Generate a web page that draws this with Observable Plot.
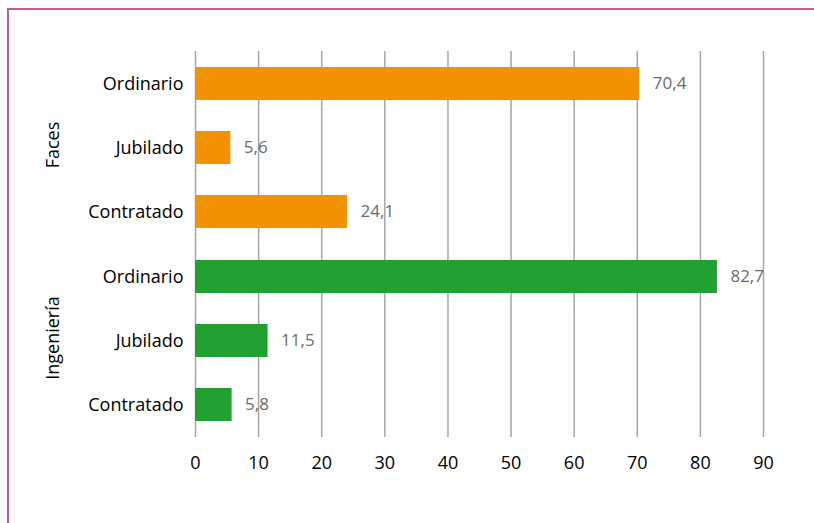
<!DOCTYPE html>
<html>
<head>
<meta charset="utf-8">
<script src="https://cdn.jsdelivr.net/npm/d3@7"></script>
<script src="https://cdn.jsdelivr.net/npm/@observablehq/plot@0.6"></script>
<style>
  html, body { margin: 0; padding: 0; background: #fff; }
  #wrap { position: relative; width: 814px; height: 523px; overflow: hidden; }
  #frame { position: absolute; left: 7px; top: 8px; right: -10px; bottom: -10px;
           border-top: 2px solid #c2589b; border-left: 2px solid #c2589b; pointer-events: none; }
</style>
</head>
<body>
<div id="wrap"><div id="frame"></div></div>
<script>
const groups = ["Faces", "Ingeniería"];
const types = ["Ordinario", "Jubilado", "Contratado"];
const facesValues = [70.4, 5.6, 24.1];
const ingValues = [82.7, 11.5, 5.8];
const groupColors = ["#f39200", "#21a131"];
const xTicks = [0, 10, 20, 30, 40, 50, 60, 70, 80, 90];

const data = [];
types.forEach((t, i) => data.push({group: groups[0], type: t, value: facesValues[i]}));
types.forEach((t, i) => data.push({group: groups[1], type: t, value: ingValues[i]}));

const fmt = v => v.toFixed(1).replace(".", ",");

const chart = Plot.plot({
  width: 814,
  height: 523,
  marginTop: 50,
  marginBottom: 86,
  marginLeft: 195,
  marginRight: 51,
  style: {fontFamily: "Open Sans", fontSize: "17px", color: "#000", background: "transparent", overflow: "visible"},
  x: {domain: [0, 90], ticks: xTicks, label: null, axis: null},
  y: {domain: types, paddingInner: 0.49, paddingOuter: 0.245, label: null, axis: null},
  fy: {domain: groups, padding: 0, axis: null, label: null},
  color: {domain: groups, range: groupColors},
  marks: [
    Plot.gridX(xTicks, {stroke: "#a6a6a6", strokeOpacity: 1, strokeWidth: 1.5}),
    Plot.axisX(xTicks, {tickSize: 0, tickPadding: 19, fontSize: 18, label: null}),
    Plot.axisY({tickSize: 0, tickPadding: 12, fontSize: 18, label: null}),
    Plot.barX(data, {x: "value", y: "type", fy: "group", fill: "group"}),
    Plot.text(data, {x: "value", y: "type", fy: "group", text: d => fmt(d.value),
      textAnchor: "start", dx: 13, fill: "#6b6b6b", fontSize: 17}),
    Plot.text(groups, {fy: d => d, y: () => types[1], text: d => d, frameAnchor: "left",
      textAnchor: "middle", dx: -142, dy: -3, rotate: -90, fill: "#000", fontSize: 18})
  ]
});
document.getElementById("wrap").prepend(chart);
</script>
</body>
</html>
